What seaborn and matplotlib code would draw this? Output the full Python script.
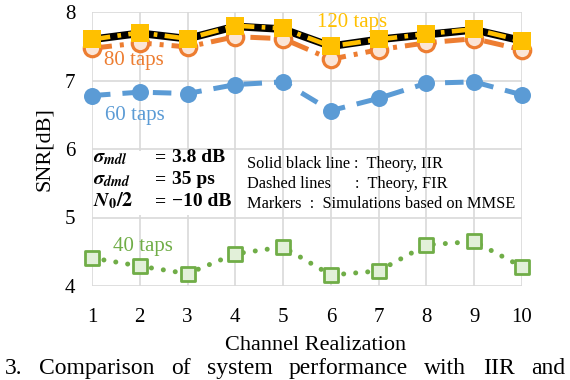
import matplotlib
matplotlib.use("Agg")
import matplotlib.pyplot as plt
import numpy as np
import pandas as pd
import seaborn as sns
from matplotlib.patches import Rectangle

# ---- data ----
realization = [1, 2, 3, 4, 5, 6, 7, 8, 9, 10]
snr_iir = [7.60, 7.69, 7.61, 7.79, 7.75, 7.50, 7.60, 7.67, 7.74, 7.58]
snr_120 = [7.60, 7.70, 7.61, 7.80, 7.76, 7.50, 7.60, 7.68, 7.75, 7.58]
snr_80 = [7.47, 7.55, 7.49, 7.64, 7.61, 7.31, 7.45, 7.55, 7.61, 7.45]
snr_60 = [6.78, 6.83, 6.81, 6.94, 6.98, 6.56, 6.74, 6.96, 6.98, 6.79]
snr_40 = [4.41, 4.29, 4.18, 4.47, 4.57, 4.16, 4.22, 4.60, 4.65, 4.28]
x_ticks = [1, 2, 3, 4, 5, 6, 7, 8, 9, 10]
y_ticks = [4, 5, 6, 7, 8]

df = pd.DataFrame({"x": realization, "iir": snr_iir, "t120": snr_120,
                   "t80": snr_80, "t60": snr_60, "t40": snr_40})

C_Y = "#FFC000"
C_O = "#ED7D31"
C_B = "#5B9BD5"
C_G = "#70AD47"

sns.set_theme(style="whitegrid")
plt.rcParams["font.family"] = ["Liberation Serif", "DejaVu Serif"]
plt.rcParams["mathtext.fontset"] = "stix"

fig = plt.figure(figsize=(5.7, 3.8), dpi=100)
ax = fig.add_axes([92 / 570, 1 - 286 / 380, 430 / 570, 274 / 380])

# theory lines
sns.lineplot(data=df, x="x", y="t80", ax=ax, color=C_O, lw=3.6,
             linestyle=(0, (4, 1.6, 0.8, 1.6)), clip_on=False, zorder=3)
sns.lineplot(data=df, x="x", y="t60", ax=ax, color=C_B, lw=3.6,
             linestyle=(0, (3.7, 2.4)), clip_on=False, zorder=3)
sns.lineplot(data=df, x="x", y="t40", ax=ax, color=C_G, lw=3.6,
             linestyle=(0, (0.01, 2.4)), dash_capstyle="round",
             clip_on=False, zorder=3)
sns.lineplot(data=df, x="x", y="iir", ax=ax, color="black", lw=5.5,
             clip_on=False, zorder=4)
sns.lineplot(data=df, x="x", y="t120", ax=ax, color=C_Y, lw=3.3,
             linestyle=(0, (4, 1.6, 0.8, 1.6)), clip_on=False, zorder=5)

# simulation markers
sns.scatterplot(data=df, x="x", y="t80", ax=ax, marker="o", s=140,
                facecolor="#FBE5D6", edgecolor=C_O, linewidth=2.3,
                clip_on=False, zorder=6)
sns.scatterplot(data=df, x="x", y="t60", ax=ax, marker="o", s=150,
                color=C_B, edgecolor=C_B, linewidth=0, clip_on=False, zorder=6)
sns.scatterplot(data=df, x="x", y="t40", ax=ax, marker="s", s=90,
                facecolor="#E2F0D9", edgecolor=C_G, linewidth=2.0,
                clip_on=False, zorder=6)
sns.scatterplot(data=df, x="x", y="t120", ax=ax, marker="s", s=150,
                color=C_Y, edgecolor=C_Y, linewidth=0, clip_on=False, zorder=7)

ax.set_xlim(1, 10)
ax.set_ylim(4, 8)
ax.set_xticks(x_ticks)
ax.set_yticks(y_ticks)
ax.grid(True, color="#d9d9d9", lw=1.2)
for s in ax.spines.values():
    s.set_visible(False)
ax.tick_params(axis="y", length=0, labelsize=15, colors="black", pad=12)
ax.tick_params(axis="x", length=0, labelsize=15, colors="black", pad=16)
ax.set_xlabel("Channel Realization", fontsize=16, color="black")
ax.xaxis.set_label_coords((316 - 92) / 430, -(355 - 286) / 274)
ax.xaxis.label.set_va("bottom")
ax.set_ylabel("SNR[dB]", fontsize=16, color="black", labelpad=8)

# white box behind parameter text
ax.add_patch(Rectangle((1.03, 5.03), 2.92, 0.94, facecolor="white",
                       edgecolor="none", zorder=1))

# series labels
ax.text(6.44, 7.85, "120 taps", color=C_Y, fontsize=15, ha="center", va="center", zorder=8)
ax.text(1.88, 7.29, "80 taps", color=C_O, fontsize=15, ha="center", va="center", zorder=8)
ax.text(1.90, 6.49, "60 taps", color=C_B, fontsize=15, ha="center", va="center", zorder=8)
ax.text(2.07, 4.57, "40 taps", color=C_G, fontsize=15, ha="center", va="center", zorder=8)

# parameter block (figure pixel coordinates)
def fx(px):
    return px / 570

def fy(py):
    return 1 - py / 380

params = [(r"$\mathbfit{\sigma}_{\mathbfit{mdl}}$", "3.8 dB", 162),
          (r"$\mathbfit{\sigma}_{\mathbfit{dmd}}$", "35 ps", 184),
          (r"$\mathbfit{N}_{\mathbf{0}}\mathbf{/2}$", "\u221210 dB", 206)]
for sym, val, py in params:
    fig.text(fx(93), fy(py), sym, fontsize=14.5, ha="left", va="baseline", color="black")
    fig.text(fx(161), fy(py), "=", fontsize=14, fontweight="bold", ha="center",
             va="baseline", color="black")
    fig.text(fx(172), fy(py), val, fontsize=14, fontweight="bold", ha="left",
             va="baseline", color="black")

notes = [("Solid black line", ":  Theory, IIR", 168, 354),
         ("Dashed lines", ":  Theory, FIR", 188, 355)]
for a, b, py, cx in notes:
    fig.text(fx(247), fy(py), a, fontsize=11.8, ha="left", va="baseline", color="black")
    fig.text(fx(cx), fy(py), b, fontsize=11.8, ha="left", va="baseline", color="black")
fig.text(fx(247), fy(208), "Markers  :  Simulations based on MMSE", fontsize=11.8,
         ha="left", va="baseline", color="black")

# caption (partly visible in the reference), justified across the width
caption_words = ["3.", "Comparison", "of", "system", "performance", "with", "IIR", "and"]
cap_texts = [fig.text(0, fy(374), w, fontsize=17, ha="left", va="baseline", color="black")
             for w in caption_words]
renderer = fig.canvas.get_renderer()
widths = [t.get_window_extent(renderer).width for t in cap_texts]
left_px, right_px = 5, 565
gap = (right_px - left_px - sum(widths)) / (len(widths) - 1)
pos = left_px
for t, w in zip(cap_texts, widths):
    t.set_x(fx(pos))
    pos += w + gap

fig.savefig("out.png", dpi=100)
